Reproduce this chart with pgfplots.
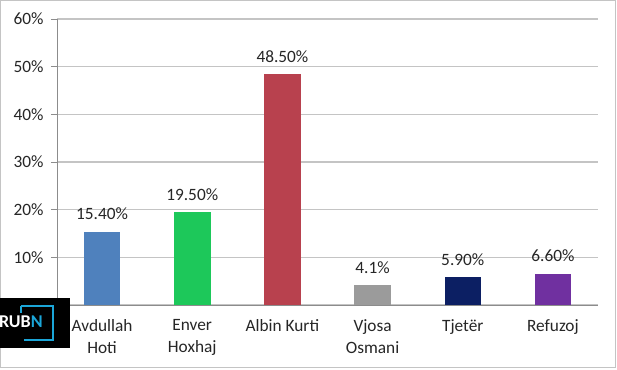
\documentclass[border=0pt]{standalone}
\usepackage{pgfplots}
\pgfplotsset{compat=1.18}
\usepackage{fontspec}
\setmainfont{Carlito}
\definecolor{cblue}{HTML}{4F81BD}
\definecolor{cgreen}{HTML}{1DC85A}
\definecolor{cred}{HTML}{B8414E}
\definecolor{cgray}{HTML}{9B9B9B}
\definecolor{cnavy}{HTML}{0C1F63}
\definecolor{cpurple}{HTML}{7030A0}
\definecolor{gridc}{HTML}{C4C4C4}
\definecolor{axc}{HTML}{8C8C8C}
\definecolor{txt}{HTML}{262626}
\definecolor{logocyan}{HTML}{1BA6D8}
\begin{document}
\begin{tikzpicture}[x=1pt,y=1pt]
\useasboundingbox (-57,-64) rectangle (560,305);
\begin{axis}[
  at={(0,0)}, anchor=south west,
  scale only axis, width=541pt, height=286pt,
  xmin=-0.5, xmax=5.5, ymin=0, ymax=60,
  axis x line*=bottom, axis y line*=left,
  axis line style={draw=axc, line width=0.9pt, -},
  ytick={0,10,20,30,40,50,60},
  yticklabels={0\%,10\%,20\%,30\%,40\%,50\%,60\%},
  ymajorgrids, grid style={draw=gridc, line width=1.2pt},
  tick align=outside, major tick length=6pt,
  ytick style={draw=axc, line width=0.9pt},
  xtick={0,1,2,3,4,5},
  xticklabels={{Avdullah\\Hoti},{Enver\\Hoxhaj},{Albin Kurti},{Vjosa\\Osmani},{Tjetër},{Refuzoj}},
  xtick style={draw=none},
  extra x ticks={0.5,1.5,2.5,3.5,4.5,5.5},
  extra x tick labels={},
  extra x tick style={tick style={draw=axc, line width=0.9pt}, grid=none},
  ticklabel style={font=\fontsize{17.3}{22}\selectfont, text=txt},
  xticklabel style={align=center, yshift=-5pt},
  yticklabel style={xshift=-4pt},
  ybar, bar width=36.5pt, bar shift=0pt,
  point meta=explicit symbolic,
  nodes near coords={\pgfplotspointmeta},
  every node near coord/.append style={font=\fontsize{17.3}{21}\selectfont, text=txt, anchor=south, yshift=8pt},
  clip=false,
]
\addplot[fill=cblue, draw=none] coordinates {(0,15.4) [15.40\%]};
\addplot[fill=cgreen, draw=none] coordinates {(1,19.5) [19.50\%]};
\addplot[fill=cred, draw=none] coordinates {(2,48.5) [48.50\%]};
\addplot[fill=cgray, draw=none] coordinates {(3,4.1) [4.1\%]};
\addplot[fill=cnavy, draw=none] coordinates {(4,5.9) [5.90\%]};
\addplot[fill=cpurple, draw=none] coordinates {(5,6.6) [6.60\%]};
\end{axis}
\draw[gridc, line width=1pt] (-56,-62) rectangle (558,304);
% watermark logo
\fill[black] (-57,7) rectangle (13,-43);
\draw[logocyan, line width=1.6pt] (-36,-1) -- (-4,-1) -- (-4,-35) -- (-33,-35);
\draw[logocyan, line width=1.6pt] (-36,-1) -- (-36,-8);
\node[anchor=west, inner sep=0pt, font=\fontsize{18}{18}\selectfont\bfseries] at (-58,-17) {\textcolor{white}{RUB}\textcolor{logocyan}{N}};
\end{tikzpicture}
\end{document}
